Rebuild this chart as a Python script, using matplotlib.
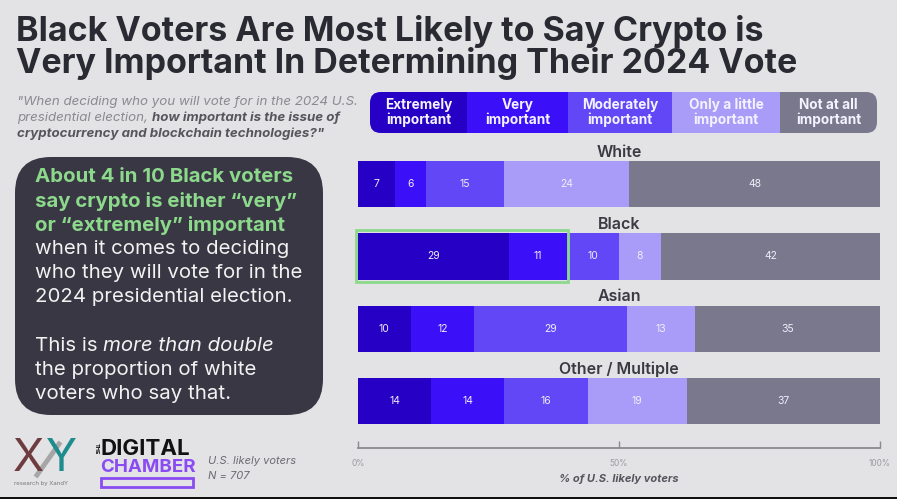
import matplotlib
matplotlib.use("Agg")
import matplotlib.pyplot as plt
from matplotlib.patches import FancyBboxPatch, Rectangle
from matplotlib.lines import Line2D

plt.rcParams['font.family'] = ['Inter', 'DejaVu Sans']

# ---- data ----
groups = ['White', 'Black', 'Asian', 'Other / Multiple']
levels = ['Extremely\nimportant', 'Very\nimportant', 'Moderately\nimportant',
          'Only a little\nimportant', 'Not at all\nimportant']
extremely = [7, 29, 10, 14]
very = [6, 11, 12, 14]
moderately = [15, 10, 29, 16]
little = [24, 8, 13, 19]
not_at_all = [48, 42, 35, 37]
series = [extremely, very, moderately, little, not_at_all]
colors = ['#2600c4', '#3b0ff8', '#6147f6', '#a99cf8', '#79788c']
highlight_group = 'Black'

W, H = 897, 499
BG = '#e3e3e6'
fig = plt.figure(figsize=(W / 100, H / 100), dpi=100, facecolor=BG)


def fx(px):
    return px / W


def fy(py):
    return 1 - py / H


# ---- title ----
title_col = '#2a2a33'
fig.text(fx(16), fy(31), 'Black Voters Are Most Likely to Say Crypto is',
         fontsize=24.5, fontweight='bold', color=title_col, va='center')
fig.text(fx(16), fy(63), 'Very Important In Determining Their 2024 Vote',
         fontsize=24.5, fontweight='bold', color=title_col, va='center')

renderer = fig.canvas.get_renderer()


def seg_line(x, y, parts, fontsize):
    # draw a line made of differently styled pieces
    for txt, kw in parts:
        t = fig.text(fx(x), fy(y), txt, fontsize=fontsize, va='center', **kw)
        bb = t.get_window_extent(renderer=renderer)
        x += bb.width


# ---- question ----
q_gray = dict(color='#8a8a90', style='italic')
q_bold = dict(color='#55555c', style='italic', fontweight='bold')
seg_line(17, 102, [('"When deciding who you will vote for in the 2024 U.S.', q_gray)], 9.6)
seg_line(17, 118, [('presidential election, ', q_gray),
                   ('how important is the issue of', q_bold)], 9.6)
seg_line(17, 134, [('cryptocurrency and blockchain technologies?"', q_bold)], 9.6)

# ---- dark callout box ----
box = FancyBboxPatch((fx(15), fy(415)), fx(308), (415 - 157) / H,
                     boxstyle='round,pad=0,rounding_size=0.04',
                     transform=fig.transFigure, facecolor='#383743',
                     edgecolor='none', mutation_aspect=W / H)
fig.patches.append(box)
green = dict(color='#8cd98c', fontweight='bold')
white = dict(color='#f2f2f2')
ital = dict(color='#f2f2f2', style='italic')
lines = [
    [('About 4 in 10 Black voters', green)],
    [('say crypto is either \u201cvery\u201d', green)],
    [('or \u201cextremely\u201d important', green)],
    [('when it comes to deciding', white)],
    [('who they will vote for in the', white)],
    [('2024 presidential election.', white)],
    [],
    [('This is ', white), ('more than double', ital)],
    [('the proportion of white', white)],
    [('voters who say that.', white)],
]
for i, parts in enumerate(lines):
    if parts:
        seg_line(35, 177 + i * 24.1, parts, 14.7)

# ---- legend strip ----
lx0, lx1, ly0, ly1 = 370, 877, 92, 133
clip = FancyBboxPatch((fx(lx0), fy(ly1)), fx(lx1 - lx0), (ly1 - ly0) / H,
                      boxstyle='round,pad=0,rounding_size=0.012',
                      transform=fig.transFigure, facecolor='none',
                      edgecolor='none', mutation_aspect=W / H)
fig.patches.append(clip)
edges = [370, 467, 568, 672, 780, 877]
for k, (lab, c) in enumerate(zip(levels, colors)):
    r = Rectangle((fx(edges[k]), fy(ly1)), fx(edges[k + 1] - edges[k]),
                  (ly1 - ly0) / H, transform=fig.transFigure,
                  facecolor=c, edgecolor='none')
    fig.patches.append(r)
    r.set_clip_path(clip)
    fig.text(fx((edges[k] + edges[k + 1]) / 2), fy(112.5), lab, ha='center',
             va='center', fontsize=9.8, fontweight='bold',
             color='#f4f2ff', linespacing=1.05)

# ---- bars ----
ax = fig.add_axes([fx(358), fy(448), fx(522), (448 - 140) / H])
ax.set_facecolor('none')
ypos = list(range(len(groups)))
totals = [sum(s[i] for s in series) for i in ypos]
left = [0] * len(groups)
for vals, c in zip(series, colors):
    widths = [v / t * 100 for v, t in zip(vals, totals)]
    bars = ax.barh(ypos, widths, left=left, height=0.64, color=c, edgecolor='none')
    for b, v in zip(bars, vals):
        ax.text(b.get_x() + b.get_width() / 2, b.get_y() + b.get_height() / 2,
                str(v), ha='center', va='center', fontsize=7.5,
                color='#eeeefa')
    left = [l + w for l, w in zip(left, widths)]

for i, g in enumerate(groups):
    ax.text(50, i - 0.44, g, ha='center', va='center', fontsize=11.5,
            fontweight='semibold', color='#3a3a42')

hi = groups.index(highlight_group)
hw = (extremely[hi] + very[hi]) / totals[hi] * 100
ax.add_patch(Rectangle((-0.3, hi - 0.36), hw + 0.6, 0.72,
                       fill=False, edgecolor='#8cd98c', linewidth=2,
                       clip_on=False, zorder=5))

ax.set_xlim(0, 100)
ax.set_ylim(3.65, -0.61)
for s in ['top', 'right', 'left']:
    ax.spines[s].set_visible(False)
ax.spines['bottom'].set_color('#8a8a90')
ax.spines['bottom'].set_linewidth(1.3)
ax.set_yticks([])
ax.set_xticks([0, 50, 100])
ax.set_xticklabels(['0%', '50%', '100%'])
ax.tick_params(axis='x', direction='in', length=5, width=1, color='#8a8a90',
               labelsize=6, labelcolor='#9a9aa0', pad=8)
ax.set_xlabel('% of U.S. likely voters', fontsize=8, style='italic',
              fontweight='bold', color='#55555c', labelpad=4)

# ---- footer ----
fig.text(fx(13), fy(459), 'X', fontsize=33, color='#6e3b3f', va='center')
fig.text(fx(46), fy(459), 'Y', fontsize=33, color='#1e8c8c', va='center')
fig.lines.append(Line2D([fx(37), fx(59)], [fy(475), fy(444)],
                        transform=fig.transFigure, color='#9c9c9c',
                        linewidth=3.5, alpha=0.85))
fig.text(fx(14), fy(484), 'research by XandY', fontsize=4.3, color='#777777', va='center')
fig.text(fx(96), fy(449), 'THE', fontsize=4, fontweight='bold', rotation=270,
         color='#111111', ha='center', va='center')
fig.text(fx(100), fy(449), 'DIGITAL', fontsize=16, fontweight='bold',
         color='#111111', va='center')
fig.text(fx(100), fy(467), 'CHAMBER', fontsize=13.5, fontweight='bold',
         color='#8a4cf2', va='center')
fig.patches.append(Rectangle((fx(101), fy(487)), fx(92), 9 / H,
                             transform=fig.transFigure, fill=False,
                             edgecolor='#8a4cf2', linewidth=2))
fig.text(fx(208), fy(461), 'U.S. likely voters', fontsize=8, style='italic',
         color='#6a6a70', va='center')
fig.text(fx(208), fy(476), 'N = 707', fontsize=8, style='italic',
         color='#6a6a70', va='center')
fig.patches.append(Rectangle((0, 0), 1, 2 / H, transform=fig.transFigure,
                             facecolor='#111111', edgecolor='none'))

fig.savefig('out.png', dpi=100, facecolor=BG)
